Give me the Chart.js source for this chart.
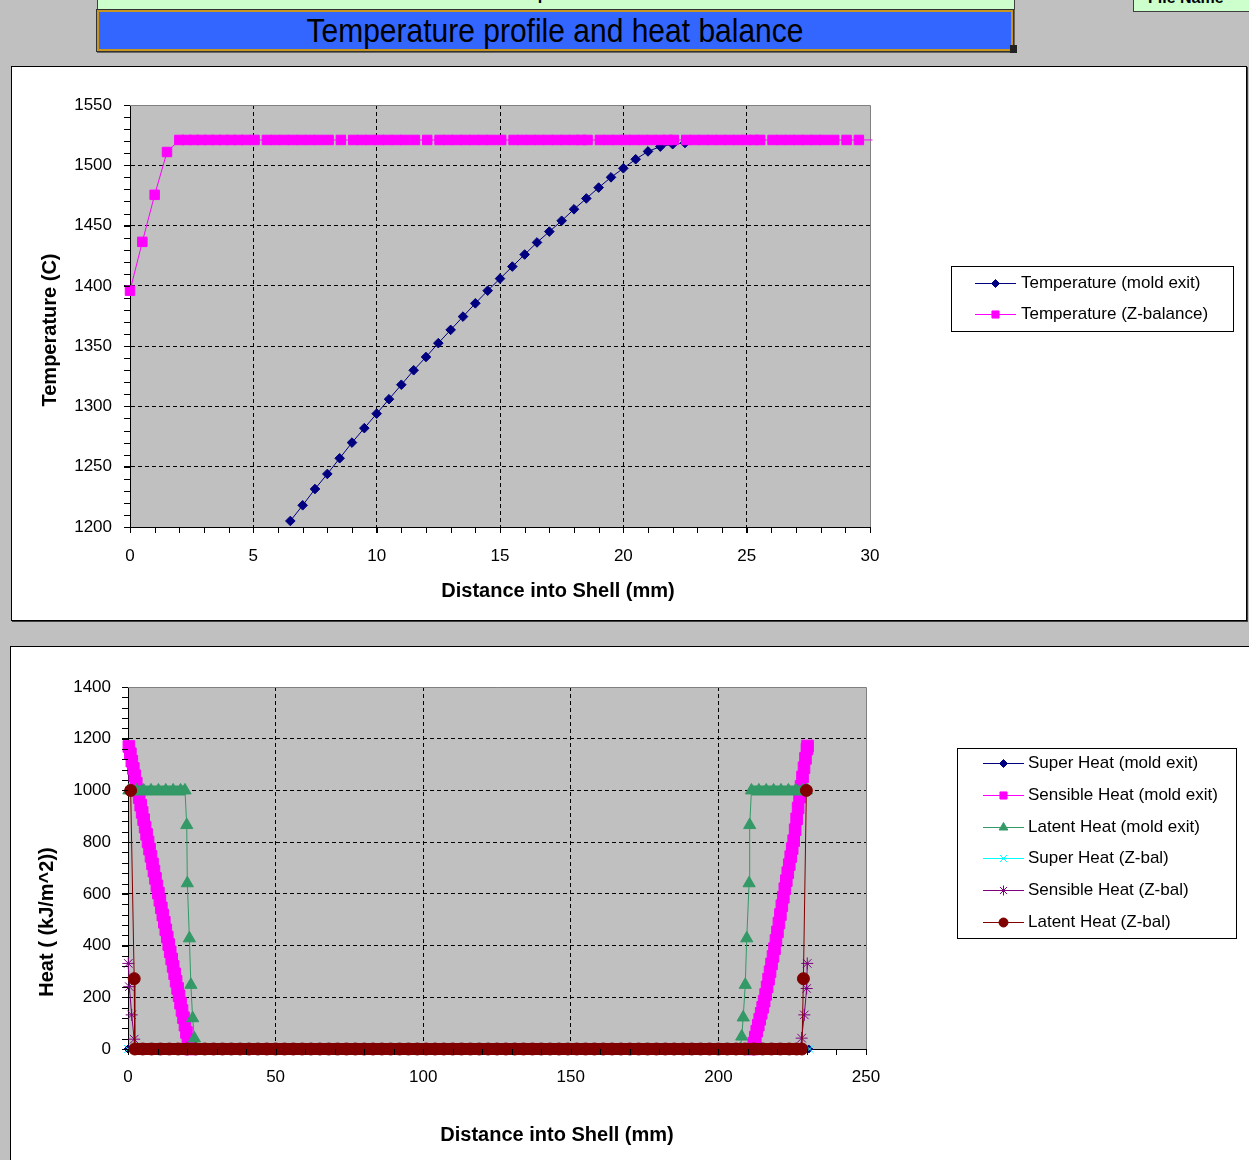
<!DOCTYPE html>
<html><head><meta charset="utf-8">
<script src="https://cdn.jsdelivr.net/npm/chart.js@4/dist/chart.umd.min.js"></script>
<style>
html,body{margin:0;padding:0;}
body{width:1249px;height:1160px;background:#c0c0c0;position:relative;overflow:hidden;font-family:"Liberation Sans",Arial,sans-serif;}
.abs{position:absolute;}
#small{left:97px;top:-16px;width:916px;height:24px;background:#ccffcc;border:1px solid #404040;text-align:center;font-weight:bold;font-size:16px;line-height:19px;color:#000;}
#fname{left:1133px;top:-14px;width:130px;height:24px;background:#ccffcc;border:1px solid #404040;font-weight:bold;font-size:16px;line-height:21px;padding-left:14px;color:#000;}
#title{left:97px;top:10px;width:912px;height:37px;background:#3366ff;border:2px solid #c8961e;box-shadow:0 0 0 1px #333,1px 1px 0 1px #666;text-align:center;color:#000;}
#title span{display:inline-block;font-size:30px;line-height:38px;transform:scale(1,1.1);transform-origin:50% 55%;}
#handle{left:1010px;top:45px;width:7px;height:8px;background:#222;}
#box1{left:11px;top:66px;width:1234px;height:553px;background:#fff;border:1px solid #000;box-shadow:1px 1px 0 #404040;}
#box2{left:10px;top:646px;width:1238px;height:600px;background:#fff;border:1px solid #000;}
canvas{position:absolute;left:0;}
</style></head>
<body>
<div id="small" class="abs">Small profile size</div>
<div id="fname" class="abs">File Name</div>
<div id="title" class="abs"><span>Temperature profile and heat balance</span></div>
<div id="handle" class="abs"></div>
<div id="box1" class="abs"></div>
<div id="box2" class="abs"></div>
<canvas id="c1" width="1249" height="640" style="top:0"></canvas>
<canvas id="c2" width="1249" height="520" style="top:640px"></canvas>
<script>
// ================= DATA =================
// Top chart: Temperature vs distance
const topXTicks = [0, 5, 10, 15, 20, 25, 30];
const topYTicks = [1200, 1250, 1300, 1350, 1400, 1450, 1500, 1550];

const tempMoldX = [6.5,7,7.5,8,8.5,9,9.5,10,10.5,11,11.5,12,12.5,13,13.5,14,14.5,15,15.5,16,16.5,17,17.5,18,18.5,19,19.5,20,20.5,21,21.5,22,22.5];
const tempMoldY = [1205,1218,1231.5,1244,1257,1270,1282,1294,1306,1318,1330,1341,1352.5,1363.5,1374.5,1385.5,1396,1406,1416,1426,1436,1445,1454,1463.5,1472.5,1481.5,1490,1497.5,1505,1511.5,1515.5,1517.5,1518.5];

const tempZbalX = [0,0.5,1.0,1.5,
  2.0,2.3,2.6,2.9,3.2,3.5,3.8,4.1,4.4,4.7,5.05,
  5.55,5.9,6.25,6.6,6.95,7.3,7.65,8.05,
  8.55,
  9.05,9.4,9.75,10.1,10.45,10.8,11.15,11.55,
  12.05,
  12.55,12.9,13.25,13.6,13.95,14.3,14.65,15.05,
  15.55,15.9,16.25,16.6,16.95,17.3,17.65,18.0,18.3,18.55,
  19.05,19.4,19.75,20.1,20.45,20.8,21.15,21.5,21.8,22.05,
  22.55,22.9,23.25,23.6,23.95,24.3,24.65,25.0,25.3,25.55,
  26.05,26.4,26.75,27.1,27.45,27.8,28.15,28.55,
  29.05,29.55,30.1];
const tempZbalY = [1396,1436.5,1475.5,1511,
  1521,1521,1521,1521,1521,1521,1521,1521,1521,1521,1521,
  1521,1521,1521,1521,1521,1521,1521,1521,
  1521,
  1521,1521,1521,1521,1521,1521,1521,1521,
  1521,
  1521,1521,1521,1521,1521,1521,1521,1521,
  1521,1521,1521,1521,1521,1521,1521,1521,1521,1521,
  1521,1521,1521,1521,1521,1521,1521,1521,1521,1521,
  1521,1521,1521,1521,1521,1521,1521,1521,1521,1521,
  1521,1521,1521,1521,1521,1521,1521,1521,
  1521,1521,1521];

// Bottom chart: Heat vs distance  ([distance mm, heat kJ/m^2])
const botXTicks = [0, 50, 100, 150, 200, 250];
const botYTicks = [0, 200, 400, 600, 800, 1000, 1200, 1400];

const superHeatMold = [[0,0],[230.6,0]];
const sensHeatMold = [
  [0.3,1170],[0.8,1142],[1.3,1113],[1.8,1085],[2.3,1057],[2.8,1028],[3.3,1000],[3.8,972],[4.3,943],[4.8,915],
  [5.3,887],[5.8,858],[6.3,830],[6.8,801],[7.3,773],[7.8,745],[8.3,716],[8.8,688],[9.3,660],[9.8,631],
  [10.3,603],[10.8,575],[11.3,546],[11.8,518],[12.3,490],[12.8,461],[13.3,433],[13.8,404],[14.3,376],[14.8,348],
  [15.3,319],[15.8,291],[16.3,262],[16.8,234],[17.3,206],[17.8,177],[18.3,149],[18.8,121],[19.3,92],[19.8,64],
  [20.3,35],[20.8,7],[21.0,0],
  [211.5,0],[212,23],[212.5,46],[213,69],[213.5,92],[214,115],[214.5,138],[215,161],[215.5,185],[216,211],
  [216.5,240],[217,270],[217.5,299],[218,329],[218.5,358],[219,388],[219.5,420],[220,453],[220.5,487],[221,520],
  [221.5,554],[222,587],[222.5,620],[223,651],[223.5,682],[224,713],[224.5,744],[225,775],[225.5,806],[226,848],
  [226.5,890],[227,932],[227.5,974],[228,1016],[228.5,1052],[229,1088],[229.5,1124],[230,1160],[230.2,1172]];
const latentHeatMold = [
  [0.3,1000],[2.8,1000],[5.3,1000],[7.8,1000],[10.3,1000],[12.8,1000],[15.3,1000],[17.8,1000],[19.3,1000],
  [19.9,866],[20.1,641],[20.8,428],[21.3,248],[21.9,119],[22.5,41],[23.0,0],
  [207.4,0],[207.9,48],[208.4,122],[209.1,248],[209.6,428],[210.4,641],[210.6,866],
  [211.2,1000],[213.7,1000],[216.2,1000],[218.7,1000],[221.2,1000],[223.7,1000],[226.2,1000],[228.7,1000],[229.8,1000]];
const superHeatZbal = [[0,0],[230.9,0]];
const sensHeatZbal = [[0.1,331],[0.45,241],[1.25,132],[2.1,38],[2.6,0],[227.8,0],[228.2,42],[229.1,132],[229.9,234],[230.1,331]];
const latentHeatZbal = [
  [0.9,1000],[2.1,272],[2.3,0],[5,0],[8,0],[11,0],[14,0],[17,0],[20,0],[23,0],[26,0],[29,0],[32,0],[35,0],
  [38,0],[41,0],[44,0],[47,0],[50,0],[53,0],[56,0],[59,0],[62,0],[65,0],[68,0],[71,0],[74,0],[77,0],[80,0],
  [83,0],[86,0],[89,0],[92,0],[95,0],[98,0],[101,0],[104,0],[107,0],[110,0],[113,0],[116,0],[119,0],[122,0],
  [125,0],[128,0],[131,0],[134,0],[137,0],[140,0],[143,0],[146,0],[149,0],[152,0],[155,0],[158,0],[161,0],
  [164,0],[167,0],[170,0],[173,0],[176,0],[179,0],[182,0],[185,0],[188,0],[191,0],[194,0],[197,0],[200,0],
  [203,0],[206,0],[209,0],[212,0],[215,0],[218,0],[221,0],[224,0],[226.5,0],[228.3,0],[228.8,272],[229.8,1000]];

// ================= HELPERS =================
const FONT = '"Liberation Sans", Arial, sans-serif';
const xy = (xs, ys) => xs.slice(0, Math.min(xs.length, ys.length)).map((x, i) => ({x, y: ys[i]}));
const pairs = arr => arr.map(p => ({x: p[0], y: p[1]}));

function drawMarker(ctx, style, r, x, y) {
  if (Chart.helpers && Chart.helpers.drawPoint) {
    Chart.helpers.drawPoint(ctx, {pointStyle: style, radius: r, borderWidth: 1, rotation: 0}, x, y);
  } else {
    ctx.beginPath(); ctx.arc(x, y, r, 0, Math.PI * 2); ctx.fill(); ctx.stroke();
  }
}

function framePlugin(cfg) {
  return {
    id: 'frame_' + cfg.name,
    beforeDraw(chart) {
      const {ctx, chartArea: a} = chart;
      ctx.save();
      ctx.fillStyle = '#c0c0c0';
      ctx.fillRect(a.left, a.top, a.right - a.left, a.bottom - a.top);
      ctx.restore();
    },
    beforeDatasetsDraw(chart) {
      const {ctx, chartArea: a} = chart;
      ctx.save();
      ctx.strokeStyle = '#808080'; ctx.lineWidth = 1;
      const t = Math.round(a.top) + 0.5, r = Math.round(a.right) + 0.5;
      ctx.beginPath(); ctx.moveTo(a.left, t); ctx.lineTo(r, t); ctx.lineTo(r, a.bottom); ctx.stroke();
      ctx.restore();
    },
    afterDraw(chart) {
      const ctx = chart.ctx;
      const xs = chart.scales.x, ys = chart.scales.y;
      // minor ticks
      ctx.save();
      ctx.strokeStyle = '#000'; ctx.lineWidth = 1; ctx.beginPath();
      for (let v = xs.min; v <= xs.max + 1e-9; v += cfg.xMinor) {
        const p = Math.round(xs.getPixelForValue(v)) + 0.5;
        ctx.moveTo(p, xs.top); ctx.lineTo(p, xs.top + 6);
      }
      for (let v = ys.min; v <= ys.max + 1e-9; v += cfg.yMinor) {
        const p = Math.round(ys.getPixelForValue(v)) + 0.5;
        ctx.moveTo(ys.right - 6, p); ctx.lineTo(ys.right, p);
      }
      ctx.stroke();
      ctx.restore();
      // axis titles
      ctx.save();
      ctx.fillStyle = '#000'; ctx.textAlign = 'center'; ctx.textBaseline = 'middle';
      ctx.font = 'bold 20px ' + FONT;
      ctx.fillText(cfg.xTitle.text, cfg.xTitle.x, cfg.xTitle.y);
      ctx.translate(cfg.yTitle.x, cfg.yTitle.y); ctx.rotate(-Math.PI / 2);
      ctx.fillText(cfg.yTitle.text, 0, 0);
      ctx.restore();
      // legend
      const L = cfg.legend;
      ctx.save();
      ctx.fillStyle = '#fff';
      ctx.fillRect(L.x1, L.y1, L.x2 - L.x1, L.y2 - L.y1);
      ctx.strokeStyle = '#000'; ctx.lineWidth = 1;
      ctx.strokeRect(L.x1 + 0.5, L.y1 + 0.5, L.x2 - L.x1, L.y2 - L.y1);
      chart.data.datasets.forEach((ds, i) => {
        const y = L.rows[i] + 0.5;
        ctx.strokeStyle = ds.borderColor; ctx.lineWidth = 1;
        ctx.beginPath(); ctx.moveTo(L.lx1, y); ctx.lineTo(L.lx2, y); ctx.stroke();
        ctx.fillStyle = ds.backgroundColor; ctx.strokeStyle = ds.borderColor;
        drawMarker(ctx, ds.pointStyle, ds.legendR || 4.5, (L.lx1 + L.lx2) / 2, y);
        ctx.fillStyle = '#000'; ctx.font = '17px ' + FONT;
        ctx.textAlign = 'left'; ctx.textBaseline = 'middle';
        ctx.fillText(ds.label, L.tx, L.rows[i]);
      });
      ctx.restore();
    }
  };
}

function makeScale(o) {
  return {
    type: 'linear', min: o.min, max: o.max, position: o.pos,
    afterBuildTicks: s => { s.ticks = o.ticks.map(v => ({value: v})); },
    ticks: {font: {family: FONT, size: 17}, color: '#000', padding: o.pad, autoSkip: false, maxRotation: 0,
            callback: v => String(v)},
    grid: {
      color: c => (c.tick && (c.tick.value === o.min || c.tick.value === o.max)) ? 'rgba(0,0,0,0)' : '#000',
      lineWidth: 1, drawTicks: true, tickLength: 6, tickColor: '#000', tickWidth: 1
    },
    border: {display: true, color: '#000', width: 1, dash: [4, 3]},
    title: {display: false},
    afterFit: s => { if (o.pos === 'bottom') s.height = o.size; else s.width = o.size; }
  };
}

const common = {
  responsive: false, animation: false, devicePixelRatio: 1, events: [],
  plugins: {legend: {display: false}, tooltip: {enabled: false}, title: {display: false}}
};

// ================= TOP CHART =================
new Chart(document.getElementById('c1'), {
  type: 'scatter',
  data: {datasets: [
    {label: 'Temperature (mold exit)', data: xy(tempMoldX, tempMoldY), showLine: true,
     borderColor: '#000080', backgroundColor: '#000080', borderWidth: 1,
     pointStyle: 'rectRot', pointRadius: 4.8, pointBorderWidth: 1, clip: false, order: 1, legendR: 4},
    {label: 'Temperature (Z-balance)', data: xy(tempZbalX, tempZbalY), showLine: true,
     borderColor: '#ff00ff', backgroundColor: '#ff00ff', borderWidth: 1,
     pointStyle: 'rect', pointRadius: c => (c.raw && c.raw.x > 30) ? 0 : 6.7, pointBorderWidth: 1,
     clip: false, order: 0, legendR: 5}
  ]},
  options: Object.assign({}, common, {
    layout: {padding: {left: 0, top: 105, right: 379, bottom: 0}},
    scales: {
      x: makeScale({min: 0, max: 30, pos: 'bottom', ticks: topXTicks, pad: 13, size: 113}),
      y: makeScale({min: 1200, max: 1550, pos: 'left', ticks: topYTicks, pad: 12, size: 130})
    }
  }),
  plugins: [framePlugin({
    name: 'top', xMinor: 1, yMinor: 10,
    xTitle: {text: 'Distance into Shell (mm)', x: 558, y: 591},
    yTitle: {text: 'Temperature (C)', x: 50, y: 330},
    legend: {x1: 951, y1: 266, x2: 1233, y2: 331, rows: [283, 314], lx1: 975, lx2: 1016, tx: 1021}
  })]
});

// ================= BOTTOM CHART =================
// thickY/thick: flat runs of densely packed markers render as a continuous band
const botSeries = [
  {label: 'Super Heat (mold exit)', d: superHeatMold, c: '#000080', s: 'rectRot', r: 4},
  {label: 'Sensible Heat (mold exit)', d: sensHeatMold, c: '#ff00ff', s: 'rect', r: 8.2, lr: 5},
  {label: 'Latent Heat (mold exit)', d: latentHeatMold, c: '#339966', s: 'triangle', r: 7, lr: 5, thickY: 1000, thick: 10},
  {label: 'Super Heat (Z-bal)', d: superHeatZbal, c: '#00ffff', s: 'crossRot', r: 5.5, lr: 5},
  {label: 'Sensible Heat (Z-bal)', d: sensHeatZbal, c: '#800080', s: 'star', r: 6, lr: 5},
  {label: 'Latent Heat (Z-bal)', d: latentHeatZbal, c: '#800000', s: 'circle', r: 6, lr: 4.5, thickY: 0, thick: 12}
];

new Chart(document.getElementById('c2'), {
  type: 'scatter',
  data: {datasets: botSeries.map((s, i) => ({
    label: s.label, data: pairs(s.d), showLine: true,
    borderColor: s.c, backgroundColor: s.c, borderWidth: 1,
    segment: {borderWidth: c => (s.thick && c.p0.parsed.y === s.thickY && c.p1.parsed.y === s.thickY) ? s.thick : 1},
    pointStyle: s.s, pointRadius: s.r, pointBorderWidth: 1, clip: false,
    order: botSeries.length - 1 - i, legendR: s.lr || 4
  }))},
  options: Object.assign({}, common, {
    layout: {padding: {left: 0, top: 47, right: 383, bottom: 0}},
    scales: {
      x: makeScale({min: 0, max: 250, pos: 'bottom', ticks: botXTicks, pad: 12, size: 111}),
      y: makeScale({min: 0, max: 1400, pos: 'left', ticks: botYTicks, pad: 11, size: 128})
    }
  }),
  plugins: [framePlugin({
    name: 'bot', xMinor: 10, yMinor: 40,
    xTitle: {text: 'Distance into Shell (mm)', x: 557, y: 495},
    yTitle: {text: 'Heat ( (kJ/m^2))', x: 47, y: 282},
    legend: {x1: 957, y1: 108, x2: 1236, y2: 298, rows: [123, 155, 187, 218, 250, 282], lx1: 983, lx2: 1024, tx: 1028}
  })]
});
</script>
</body></html>
